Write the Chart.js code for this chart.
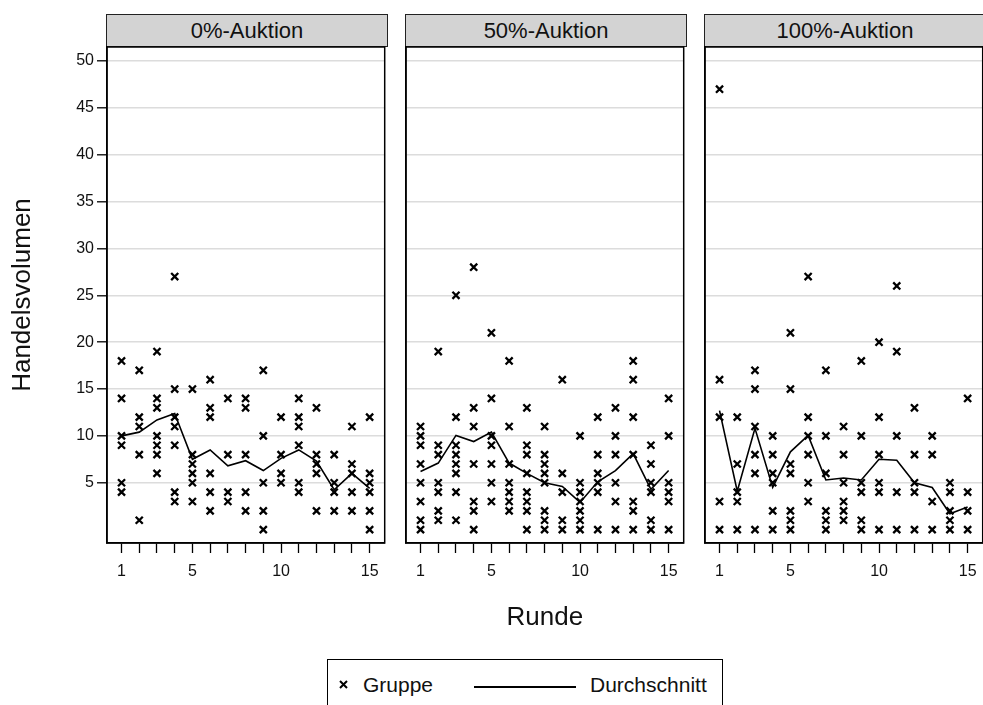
<!DOCTYPE html>
<html>
<head>
<meta charset="utf-8">
<script src="https://cdn.jsdelivr.net/npm/chart.js@4"></script>
<style>
  body { margin: 0; background: #fff; overflow: hidden; width: 983px; height: 705px; position: relative; font-family: "Liberation Sans", Arial, sans-serif; }
  canvas { position: absolute; }
  .strip { position: absolute; top: 14px; height: 31px; width: 280px; background: #d3d3d3; border: 1.5px solid #222;
           text-align: center; font-size: 22px; line-height: 31px; color: #111; }
  #legend { position: absolute; left: 327px; top: 659px; width: 394px; height: 60px; border: 1px solid #000; font-size: 21px; color: #111; }
  #legend span { position: absolute; top: 13px; }
</style>
</head>
<body>
<div class="strip" style="left:106px">0%-Auktion</div>
<div class="strip" style="left:405px">50%-Auktion</div>
<div class="strip" style="left:704px">100%-Auktion</div>
<canvas id="p0" width="392" height="620" style="left:0px;top:20px"></canvas>
<canvas id="p1" width="392" height="620" style="left:299px;top:20px"></canvas>
<canvas id="p2" width="392" height="620" style="left:598px;top:20px"></canvas>
<div id="legend">
  <svg style="position:absolute;left:11px;top:20px" width="9" height="9"><path d="M1 1L8 8M8 1L1 8" stroke="#000" stroke-width="2"/></svg>
  <span style="left:35px">Gruppe</span>
  <div style="position:absolute;left:146px;top:26px;width:102px;height:2px;background:#000"></div>
  <span style="left:262px">Durchschnitt</span>
</div>
<script>
const rounds = [1, 2, 3, 4, 5, 6, 7, 8, 9, 10, 11, 12, 13, 14, 15];
const xTickLabels = [1, 5, 10, 15];
const yTicks = [5, 10, 15, 20, 25, 30, 35, 40, 45, 50];
const panelTitles = ['0%-Auktion', '50%-Auktion', '100%-Auktion'];

// Handelsvolumen je Gruppe, pro Runde
const gruppe0 = [
  [18, 14, 10, 9, 5, 4], [17, 12, 11, 8, 1], [19, 14, 13, 10, 9, 8, 6], [27, 15, 12, 11, 9, 4, 3],
  [15, 8, 7, 6, 5, 3], [16, 13, 12, 6, 4, 2], [14, 8, 4, 3], [14, 13, 8, 4, 2],
  [17, 10, 5, 2, 0], [12, 8, 6, 5], [14, 12, 11, 9, 5, 4], [13, 8, 7, 6, 2],
  [8, 5, 4, 2], [11, 7, 6, 4, 2], [12, 6, 5, 4, 2, 0]
];
const gruppe50 = [
  [11, 10, 9, 7, 5, 3, 1, 0], [19, 9, 8, 5, 4, 2, 1], [25, 12, 9, 8, 7, 6, 4, 1], [28, 13, 11, 7, 3, 2, 0],
  [21, 14, 10, 9, 7, 5, 3], [18, 11, 7, 5, 4, 3, 2], [13, 9, 8, 6, 4, 3, 2, 0], [11, 8, 7, 6, 5, 2, 1, 0],
  [16, 6, 4, 1, 0], [10, 5, 4, 3, 2, 1, 0], [12, 8, 6, 5, 4, 0], [13, 10, 8, 5, 3, 0],
  [18, 16, 12, 8, 3, 2, 0], [9, 7, 5, 4, 1, 0], [14, 10, 5, 4, 3, 0]
];
const gruppe100 = [
  [47, 16, 12, 3, 0], [12, 7, 4, 3, 0], [17, 15, 11, 8, 6, 0], [10, 8, 6, 5, 2, 0],
  [21, 15, 7, 6, 2, 1, 0], [27, 12, 10, 8, 5, 3], [17, 10, 6, 2, 1, 0], [11, 8, 5, 3, 2, 1],
  [18, 10, 5, 4, 1, 0], [20, 12, 8, 5, 4, 0], [26, 19, 10, 4, 0], [13, 8, 5, 4, 0],
  [10, 8, 3, 0], [5, 4, 2, 1, 0], [14, 4, 2, 0]
];
// Durchschnitt pro Runde
const mittel0 = [10, 10.4, 11.7, 12.4, 7.5, 8.5, 6.8, 7.35, 6.3, 7.6, 8.5, 7.3, 4.25, 6.0, 4.4];
const mittel50 = [6.2, 7.1, 10.05, 9.4, 10.4, 7.1, 6.0, 5.0, 4.6, 2.9, 5.1, 6.3, 8.1, 4.3, 6.3];
const mittel100 = [12.7, 4.1, 10.8, 4.5, 8.3, 10.05, 5.3, 5.5, 5.3, 7.5, 7.4, 5.0, 4.5, 1.7, 2.4];

Chart.defaults.font.family = '"Liberation Sans", Arial, sans-serif';
Chart.defaults.color = '#111';

const boxPlugin = {
  id: 'box',
  afterDraw(chart) {
    const { ctx, chartArea: a } = chart;
    ctx.save();
    ctx.strokeStyle = '#000';
    ctx.lineWidth = 1.5;
    ctx.strokeRect(a.left, a.top, a.right - a.left, a.bottom - a.top);
    ctx.restore();
  }
};

function makePanel(idx, groups, means) {
  const first = idx === 0;
  const mid = idx === 1;
  const points = [];
  rounds.forEach((r, i) => groups[i].forEach(v => points.push({ x: r, y: v })));
  const line = rounds.map((r, i) => ({ x: r, y: means[i] }));

  new Chart(document.getElementById('p' + idx), {
    type: 'scatter',
    data: {
      datasets: [
        {
          label: 'Gruppe',
          data: points,
          pointStyle: 'crossRot',
          pointRadius: 5,
          borderWidth: 2.3,
          borderColor: '#000',
          backgroundColor: '#000'
        },
        {
          label: 'Durchschnitt',
          data: line,
          showLine: true,
          pointRadius: 0,
          borderColor: '#000',
          borderWidth: 1.6
        }
      ]
    },
    options: {
      responsive: false,
      animation: false,
      devicePixelRatio: 1,
      events: [],
      layout: { padding: { top: 27, right: 3, left: 0, bottom: 0 } },
      plugins: { legend: { display: false }, tooltip: { enabled: false } },
      scales: {
        x: {
          type: 'linear',
          min: 0.18,
          max: 15.85,
          afterBuildTicks: s => { s.ticks = rounds.map(v => ({ value: v })); },
          afterFit: s => { s.height = 97; },
          ticks: {
            autoSkip: false,
            maxRotation: 0,
            padding: 9,
            font: { size: 16 },
            callback: v => xTickLabels.includes(v) ? String(v) : ''
          },
          grid: { drawOnChartArea: false, tickLength: 10, tickColor: '#000', tickWidth: 1.3 },
          border: { color: '#000', width: 1.5 },
          title: { display: mid, text: 'Runde', font: { size: 26 }, padding: { bottom: 7 } }
        },
        y: {
          min: -1.43,
          max: 51.5,
          afterBuildTicks: s => { s.ticks = yTicks.map(v => ({ value: v })); },
          afterFit: s => { s.width = 107; },
          ticks: { display: first, padding: 3, font: { size: 16 } },
          grid: { color: '#dcdcdc', lineWidth: 1.6, drawTicks: first, tickLength: 10, tickColor: '#000', tickWidth: 1.3 },
          border: { color: '#000', width: 1.5 },
          title: { display: first, text: 'Handelsvolumen', font: { size: 26 }, padding: { top: 7 } }
        }
      }
    },
    plugins: [boxPlugin]
  });
}

makePanel(0, gruppe0, mittel0);
makePanel(1, gruppe50, mittel50);
makePanel(2, gruppe100, mittel100);
</script>
</body>
</html>
